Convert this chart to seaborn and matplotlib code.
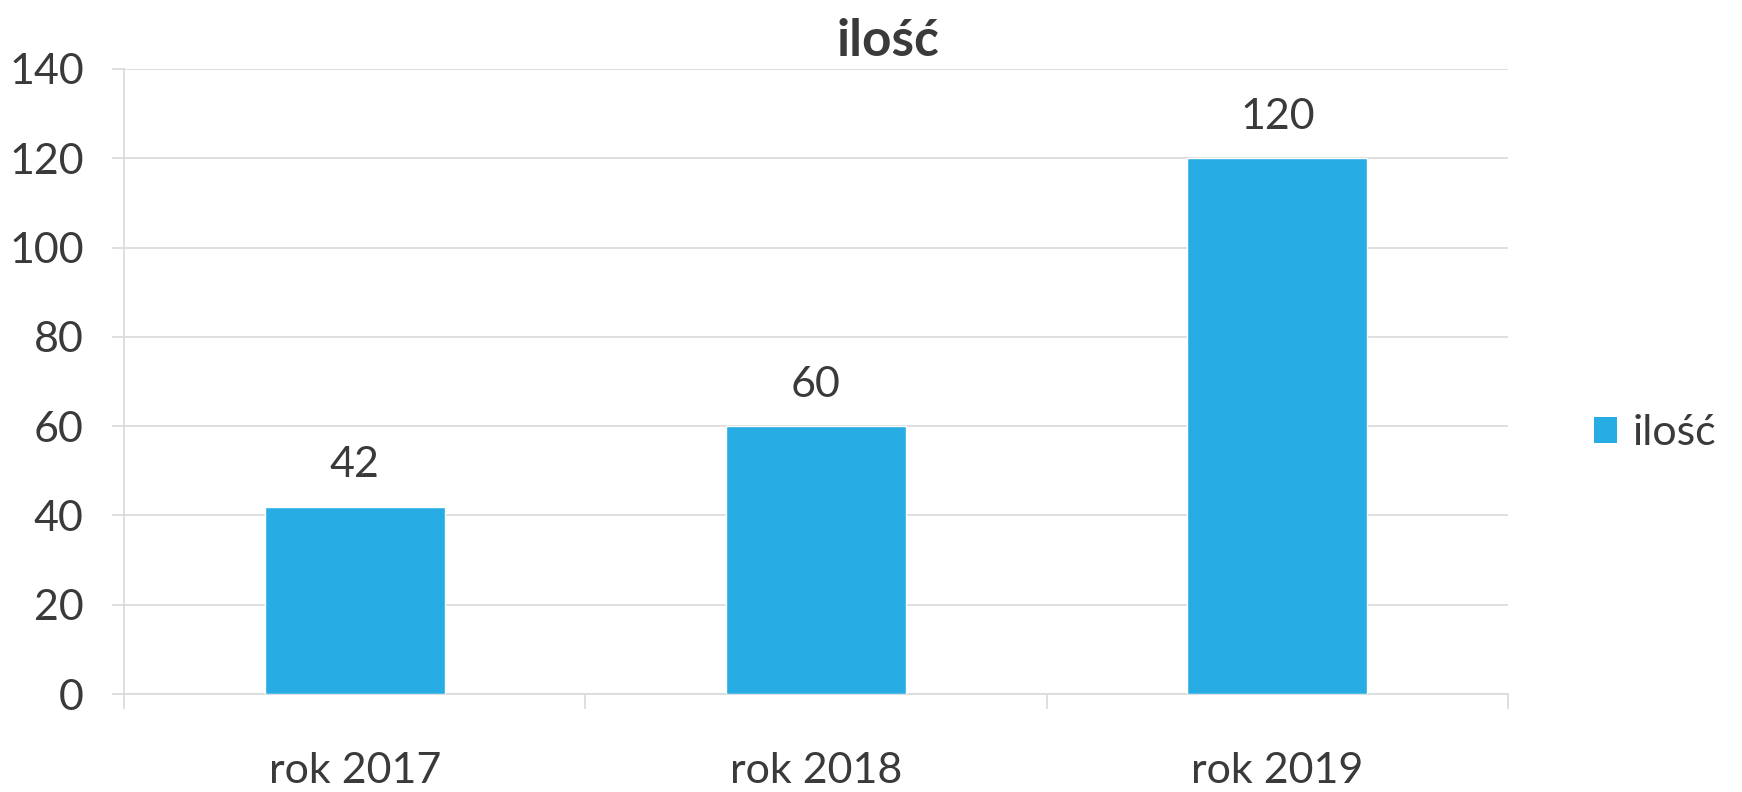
import seaborn as sns
import matplotlib.pyplot as plt
import pandas as pd
from matplotlib.patches import Patch

categories = ['rok 2017', 'rok 2018', 'rok 2019']
values = [42, 60, 120]
series_name = 'ilość'
yticks = [0, 20, 40, 60, 80, 100, 120, 140]

bar_color = '#27ACE3'
text_color = '#3a3a3a'
grid_color = '#d9d9d9'

sns.set_style('white')
plt.rcParams['font.family'] = ['Lato', 'DejaVu Sans']

df = pd.DataFrame({'rok': categories, series_name: values})

fig = plt.figure(figsize=(17.42, 7.92), dpi=100)
ax = fig.add_axes([0.0712, 0.1237, 0.7945, 0.7892])

sns.barplot(data=df, x='rok', y=series_name, color=bar_color, width=0.39,
            saturation=1, ax=ax, zorder=3)

ax.set_xlim(-0.5, len(categories) - 0.5)
ax.set_ylim(0, 140)
ax.set_yticks(yticks)
ax.yaxis.grid(True, color=grid_color, linewidth=1.2, zorder=0)
ax.set_xlabel('')
ax.set_ylabel('')

for s in ['top', 'right']:
    ax.spines[s].set_visible(False)
ax.spines['left'].set_color(grid_color)
ax.spines['bottom'].set_color(grid_color)
ax.spines['left'].set_linewidth(1.2)
ax.spines['bottom'].set_linewidth(1.2)

# category boundary tick marks below the axis, short outward ticks on the left
ax.set_xticks([i - 0.5 for i in range(len(categories) + 1)], minor=True)
ax.tick_params(axis='x', which='both', bottom=True)
ax.tick_params(axis='x', which='major', length=0, pad=42, labelsize=31, labelcolor=text_color)
ax.tick_params(axis='x', which='minor', length=11, color=grid_color, width=1.2)
ax.tick_params(axis='y', left=True, length=9, color=grid_color, width=1.2, pad=20,
               labelsize=31, labelcolor=text_color)

ax.bar_label(ax.containers[0], padding=16, fontsize=31, color=text_color)

fig.text(0.510, 0.947, series_name, ha='center', va='center', fontsize=37,
         fontweight='bold', color=text_color)

handle = Patch(facecolor=bar_color, edgecolor='none')
fig.legend([handle], [series_name], loc='center left', bbox_to_anchor=(0.905, 0.453),
           frameon=False, fontsize=31, labelcolor=text_color, handlelength=0.55,
           handleheight=0.55, handletextpad=0.35, borderaxespad=0)

fig.savefig('out.png', dpi=100)
